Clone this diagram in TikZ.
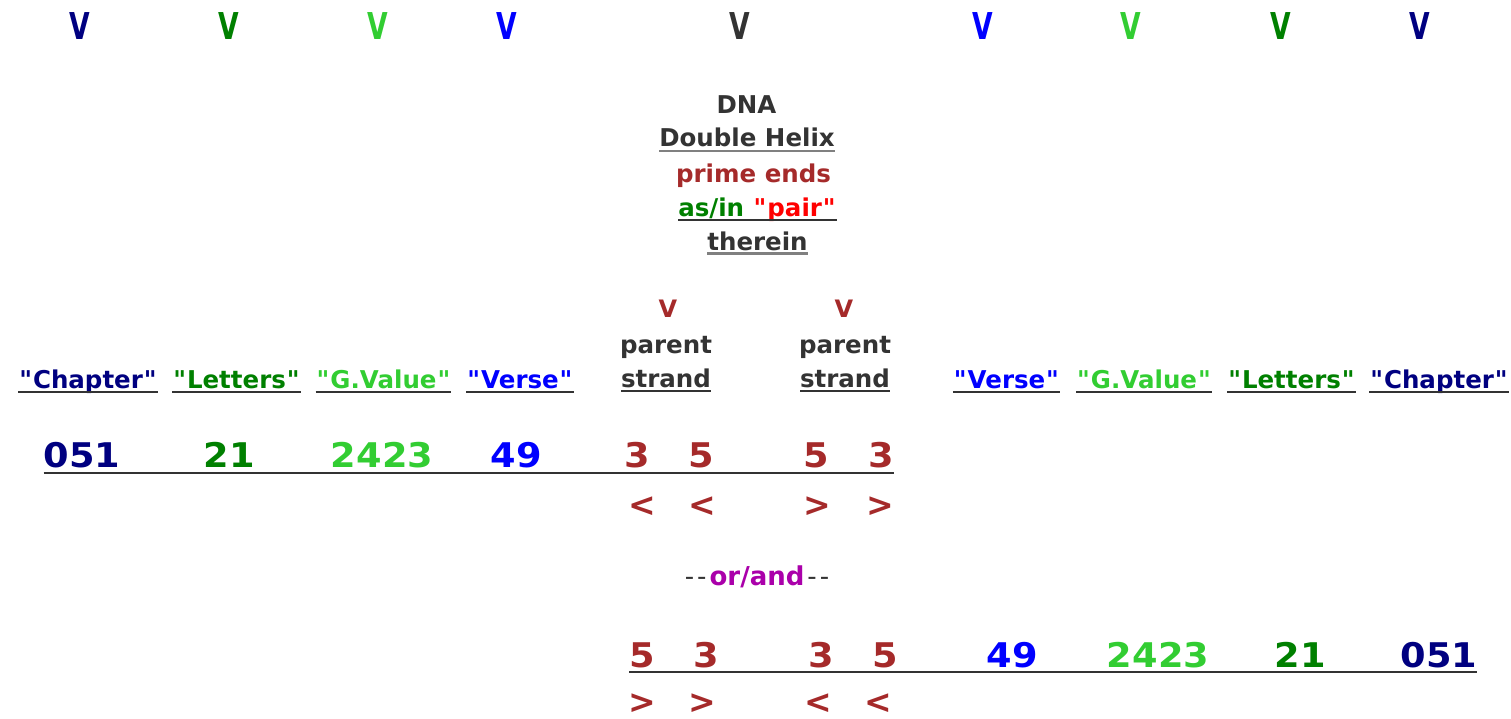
\documentclass[tikz,border=0pt]{standalone}
\usepackage{fontspec}
\setmainfont{DejaVu Sans}[Ligatures=TeXOff]
\definecolor{cnavy}{HTML}{000080}
\definecolor{cgreen}{HTML}{008000}
\definecolor{clime}{HTML}{32CD32}
\definecolor{cblue}{HTML}{0000FF}
\definecolor{cdark}{HTML}{333333}
\definecolor{cbrown}{HTML}{A52A2A}
\definecolor{cred}{HTML}{FF0000}
\definecolor{cpurple}{HTML}{AA00AA}
\definecolor{cgray}{HTML}{808080}
\newcommand\ulnode[3]{\draw[#3] ([yshift=-#2]#1.base west) -- ([yshift=-#2]#1.base east);}
\newcommand\qmk{\kern1bp"\kern1bp}
\begin{document}
\begin{tikzpicture}[x=1bp,y=-1bp,
  every node/.style={inner sep=0pt, outer sep=0pt, anchor=base},
  vtop/.style={font=\fontsize{37bp}{37bp}\selectfont\bfseries, xscale=0.72, transform shape},
  hd/.style={font=\fontsize{24.5bp}{30bp}\selectfont\bfseries},
  smallv/.style={font=\fontsize{24bp}{24bp}\selectfont\bfseries, text=cbrown},
  num/.style={font=\fontsize{34bp}{34bp}\selectfont\bfseries, xscale=1.08, transform shape},
  brk/.style={font=\fontsize{33bp}{33bp}\selectfont\bfseries, text=cbrown},
  orand/.style={font=\fontsize{26bp}{26bp}\selectfont\bfseries},
  ul/.style={line width=2.3bp, draw=cdark},
  ulg/.style={line width=2.5bp, draw=cgray},
]
\useasboundingbox (0,0) rectangle (1511,719);
% top row of V
\node[vtop, text=cnavy]  (v1) at (80,40)   {V};
\node[vtop, text=cgreen] (v2) at (229,40)  {V};
\node[vtop, text=clime]  (v3) at (378,40)  {V};
\node[vtop, text=cblue]  (v4) at (507,40)  {V};
\node[vtop, text=cdark]  (v5) at (740,40)  {V};
\node[vtop, text=cblue]  (v6) at (983,40)  {V};
\node[vtop, text=clime]  (v7) at (1131,40) {V};
\node[vtop, text=cgreen] (v8) at (1281,40) {V};
\node[vtop, text=cnavy]  (v9) at (1420,40) {V};
% centre block
\node[hd, text=cdark]  (dna)  at (746.5,114) {DNA};
\node[hd, text=cdark]  (dh)   at (747,147)   {Double Helix};
\ulnode{dh}{4bp}{ulg}
\node[hd, text=cbrown] (pe)   at (753.5,182) {prime ends};
\node[hd]              (pair) at (757.5,216.5) {{\color{cgreen}as/in }{\color{cred}\qmk pair\qmk}};
\ulnode{pair}{3.5bp}{ul}
\node[hd, text=cdark]  (ther) at (757.5,250) {therein};
\ulnode{ther}{3.5bp}{ulg}
% parent strands
\node[smallv] (pv1) at (668,317) {V};
\node[smallv] (pv2) at (844,317) {V};
\node[hd, text=cdark] (pa1) at (666,353) {parent};
\node[hd, text=cdark] (pa2) at (845,353) {parent};
\node[hd, text=cdark] (st1) at (666,387) {strand};
\node[hd, text=cdark] (st2) at (845,387) {strand};
\ulnode{st1}{4bp}{ul}
\ulnode{st2}{4bp}{ul}
% headings
\node[hd, text=cnavy]  (hl1) at (88,388)     {\qmk Chapter\qmk};
\node[hd, text=cgreen] (hl2) at (236.5,388)  {\qmk Letters\qmk};
\node[hd, text=clime]  (hl3) at (383.5,388)  {\qmk G.Value\qmk};
\node[hd, text=cblue]  (hl4) at (520,388)    {\qmk Verse\qmk};
\node[hd, text=cblue]  (hr4) at (1006.5,388) {\qmk Verse\qmk};
\node[hd, text=clime]  (hr3) at (1144,388)   {\qmk G.Value\qmk};
\node[hd, text=cgreen] (hr2) at (1291.5,388) {\qmk Letters\qmk};
\node[hd, text=cnavy]  (hr1) at (1439,388)   {\qmk Chapter\qmk};
\foreach \n in {hl1,hl2,hl3,hl4,hr1,hr2,hr3,hr4} {\ulnode{\n}{4bp}{ul}}
% first number row
\node[num, text=cnavy]  (a1) at (82,467)  {051};
\node[num, text=cgreen] (a2) at (229,467) {21};
\node[num, text=clime]  (a3) at (382,467) {2423};
\node[num, text=cblue]  (a4) at (516.5,467) {49};
\node[num, text=cbrown] (a5) at (637,467) {3};
\node[num, text=cbrown] (a6) at (701,467) {5};
\node[num, text=cbrown] (a7) at (816,467) {5};
\node[num, text=cbrown] (a8) at (881,467) {3};
\draw[ul] ([yshift=-6bp]a1.base west) -- ([yshift=-6bp]a8.base east);
\node[brk] (b1) at (642,516) {<};
\node[brk] (b2) at (702,516) {<};
\node[brk] (b3) at (817,516) {>};
\node[brk] (b4) at (880,516) {>};
% or/and
\node[orand] (oa) at (757,585) {{\color{cdark}\mdseries -\kern3bp-\kern3bp}{\color{cpurple}or/and}{\color{cdark}\mdseries\kern3bp -\kern3bp-}};
% second number row
\node[num, text=cbrown] (c1) at (642,667)  {5};
\node[num, text=cbrown] (c2) at (706,667)  {3};
\node[num, text=cbrown] (c3) at (821,667)  {3};
\node[num, text=cbrown] (c4) at (885,667)  {5};
\node[num, text=cblue]  (c5) at (1012.5,667) {49};
\node[num, text=clime]  (c6) at (1158,667) {2423};
\node[num, text=cgreen] (c7) at (1300.5,667) {21};
\node[num, text=cnavy]  (c8) at (1439,667) {051};
\draw[ul] ([yshift=-5bp]c1.base west) -- ([yshift=-5bp]c8.base east);
\node[brk] (d1) at (642,713) {>};
\node[brk] (d2) at (702,713) {>};
\node[brk] (d3) at (818,713) {<};
\node[brk] (d4) at (878,713) {<};
\end{tikzpicture}
\end{document}
